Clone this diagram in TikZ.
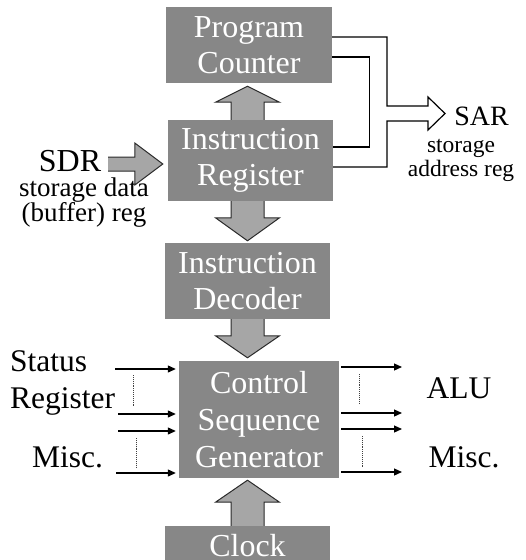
\documentclass[tikz,border=0pt]{standalone}
\usepackage{fontspec}
\setmainfont{Liberation Serif}
\usetikzlibrary{calc,arrows.meta}

\definecolor{boxgray}{HTML}{878787}
\definecolor{arrowgray}{HTML}{A6A6A6}
\definecolor{edgegray}{HTML}{2A2A2A}

% Wide block arrow from #1 to #2: body half width #3, head half width #4, head length #5
\newcommand\blockarrow[5]{%
  \coordinate (ba-h) at ($(#2)!#5!(#1)$);
  \fill[arrowgray]
    ($(#1)!#3!90:(#2)$) -- ($(ba-h)!#3!90:(#2)$) -- ($(ba-h)!#4!90:(#2)$) -- (#2)
    -- ($(ba-h)!#4!-90:(#2)$) -- ($(ba-h)!#3!-90:(#2)$) -- ($(#1)!#3!-90:(#2)$) -- cycle;
  \draw[blockedge]
    ($(#1)!#3!90:(#2)$) -- ($(ba-h)!#3!90:(#2)$) -- ($(ba-h)!#4!90:(#2)$) -- (#2)
    -- ($(ba-h)!#4!-90:(#2)$) -- ($(ba-h)!#3!-90:(#2)$) -- ($(#1)!#3!-90:(#2)$);
}

\begin{document}
\begin{tikzpicture}[x=1pt,y=-1pt,
  gbox/.style={fill=boxgray, text=white, inner sep=0pt, align=center,
    font=\fontsize{32}{36}\selectfont},
  lbl/.style={inner sep=0pt, font=\fontsize{31.5}{37}\selectfont},
  blockedge/.style={draw=edgegray, line width=1pt, line join=miter},
  wire/.style={draw=black, line width=1.2pt, line join=miter},
  sig/.style={draw=black, line width=1.2pt, -{Triangle[length=8pt,width=7pt]}},
  dotline/.style={draw=black!75, line width=0.9pt, densely dotted}]

\useasboundingbox (0,0) rectangle (526,560);
\clip (0,0) rectangle (526,560);

% register and control blocks
\node[gbox, minimum width=166pt, minimum height=76pt] (pc)  at (249,45)    {Program\\Counter};
\node[gbox, minimum width=165pt, minimum height=81pt] (ir)  at (250.5,160.5) {Instruction\\Register};
\node[gbox, minimum width=165pt, minimum height=76pt] (dec) at (247.5,281)  {Instruction\\Decoder};
\node[gbox, minimum width=160pt, minimum height=117pt, font=\fontsize{32}{37}\selectfont] (csg) at (259,419.5)
  {Control\\Sequence\\Generator};
\node[gbox, minimum width=165pt, minimum height=76pt] (clk) at (247.5,564) {Clock\\\phantom{Clock}};

% side labels
\node[inner sep=0pt, anchor=base, font=\fontsize{32}{36}\selectfont] (sdr) at (70,171) {SDR};
\node[inner sep=0pt, align=center, font=\fontsize{27}{25}\selectfont] (sdrnote) at (84,203)
  {storage data\\(buffer) reg};
\node[inner sep=0pt, anchor=base, font=\fontsize{28}{30}\selectfont] (sar) at (481.5,125) {SAR};
\node[inner sep=0pt, align=center, font=\fontsize{23.5}{24}\selectfont] (sarnote) at (461,160)
  {storage\\address reg};
\node[lbl, align=left, anchor=west] (status) at (10,382.5) {Status\\Register};
\node[lbl, anchor=base] (miscin) at (67.5,467) {Misc.};
\node[lbl, anchor=base] (alu) at (459,398) {ALU};
\node[lbl, anchor=base] (miscout) at (464,467) {Misc.};

% wide data-path arrows
\coordinate (ax) at (247.5,0);
\coordinate (sdrtail) at (108,164);
\coordinate (pcin)   at ($(pc.south -| ax)+(0,3)$);
\coordinate (decin)  at ($(dec.north -| ax)+(0,-2)$);
\coordinate (csgtop) at ($(csg.north -| ax)+(0,-3)$);
\coordinate (csgbot) at ($(csg.south -| ax)+(0,2)$);
\coordinate (irin)   at ($(ir.west |- sdrtail)+(-5,0)$);
\blockarrow{ir.north -| ax}{pcin}{16.5pt}{32pt}{16pt}
\blockarrow{ir.south -| ax}{decin}{16.5pt}{32pt}{23pt}
\blockarrow{dec.south -| ax}{csgtop}{16.5pt}{32pt}{22pt}
\blockarrow{clk.north -| ax}{csgbot}{16.5pt}{32pt}{22pt}
\blockarrow{sdrtail}{irin}{7pt}{21pt}{28pt}

% address paths to SAR, merged into one open arrow
\coordinate (sartip) at (445,113.5);
\draw[wire] ($(pc.east)+(0,-8)$) -| (387,106) -- (428,106) -- (428,97) -- (sartip)
  -- (428,130) -- (428,121) -- (387,121) |- ($(ir.east)+(0,6.5)$);
\draw[wire] ($(pc.east)+(0,12)$) -| ($(ir.east)+(36,-13.5)$) -- ($(ir.east)+(0,-13.5)$);

% condition inputs
\coordinate (in1) at (115,369);
\coordinate (in2) at (118,414);
\coordinate (in3) at (118,431);
\coordinate (in4) at (116,473);
\foreach \c in {in1,in2,in3,in4}
  \draw[sig, shorten >=3pt] (\c) -- (\c -| csg.west);
\draw[dotline] (133,375) -- (133,406);
\draw[dotline] (136.5,438) -- (136.5,468);

% control outputs
\coordinate (out1) at (402,367);
\coordinate (out2) at (402,413);
\coordinate (out3) at (402,429);
\coordinate (out4) at (402,472);
\foreach \c in {out1,out2,out3,out4}
  \draw[sig, shorten <=2pt] (\c -| csg.east) -- (\c);
\draw[dotline] (359,374) -- (359,404);
\draw[dotline] (362,436) -- (362,467);

\end{tikzpicture}
\end{document}
